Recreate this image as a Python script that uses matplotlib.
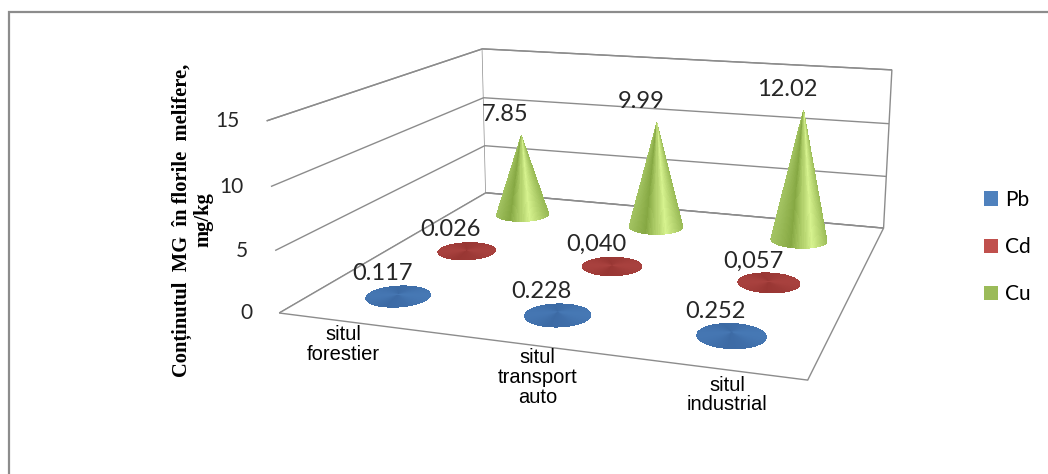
import numpy as np
import matplotlib
matplotlib.use('Agg')
import matplotlib.pyplot as plt
from matplotlib.patches import Patch, Rectangle
from matplotlib.colors import to_rgb
from mpl_toolkits.mplot3d import proj3d

# ---------------- data ----------------
categories = ['situl\nforestier', 'situl\ntransport\nauto', 'situl\nindustrial']
series = ['Pb', 'Cd', 'Cu']
pb_values = [0.117, 0.228, 0.252]
cd_values = [0.026, 0.040, 0.057]
cu_values = [7.85, 9.99, 12.02]
pb_labels = ['0.117', '0.228', '0.252']
cd_labels = ['0.026', '0,040', '0,057']
cu_labels = ['7.85', '9.99', '12.02']
z_ticks = [0, 5, 10, 15]
z_ticklabels = ['0', '5', '10', '15']
y_title = 'Conținutul  MG  în florile  melifere,\nmg/kg'

legend_colors = ['#4F81BD', '#C0504D', '#9BBB59']

FW, FH = 1048, 474
plt.rcParams['grid.color'] = '#8c8c8c'
plt.rcParams['grid.linewidth'] = 1.0

fig = plt.figure(figsize=(FW / 100, FH / 100), dpi=100)
fig.patch.set_facecolor('white')

S = 672
cx, cy = 603, 190
ax = fig.add_axes([(cx - S / 2) / FW, 1 - (cy + S / 2) / FH, S / FW, S / FH],
                  projection='3d')
ax.set_facecolor('none')
ELEV, AZIM = 14.1, -71.2
ax.set_proj_type('persp', focal_length=0.36)
ax.view_init(elev=ELEV, azim=AZIM)
ax.set_box_aspect((1.10, 1.04, 0.405))
ax.set_xlim(-0.5, 2.5)
ax.set_ylim(-0.5, 2.5)
ax.set_zlim(0, 15)
ax.computed_zorder = False

for axis in (ax.xaxis, ax.yaxis, ax.zaxis):
    axis.set_pane_color((1, 1, 1, 1))
    axis.pane.set_edgecolor('#8c8c8c')
    axis.pane.set_linewidth(1.0)
    axis.line.set_color((0, 0, 0, 0))
    axis._axinfo['tick']['inward_factor'] = 0
    axis._axinfo['tick']['outward_factor'] = 0
ax.zaxis._axinfo['grid'].update({'color': '#8c8c8c', 'linewidth': 1.0})

ax.set_xticks([])
ax.set_yticks([])
ax.set_zticks(z_ticks)
ax.set_zticklabels([])
ax.zaxis.set_ticks_position('lower')

x0, x1 = ax.get_xlim()
y0, y1 = ax.get_ylim()
M = ax.get_proj()


def proj2d(x, y, z):
    xs, ys, _ = proj3d.proj_transform(x, y, z, M)
    return float(xs), float(ys)


def label3d(x, y, z, s, dx, dy, **kw):
    ax.annotate(s, xy=proj2d(x, y, z), xycoords='data', xytext=(dx, dy),
                textcoords='offset pixels', annotation_clip=False, zorder=10, **kw)


# value-axis labels at the front-left edge
for zt, zl in zip(z_ticks, z_ticklabels):
    label3d(x0, y0, zt, zl, -27, 0, ha='right', va='center',
            fontsize=15, family='Lato', color='#262626')


def gradient_colors(theta, stops, th_cam):
    s = (1 + np.sin(theta - th_cam)) / 2
    pos = np.array([p for p, _ in stops])
    cols = np.array([to_rgb(c) for _, c in stops])
    rgb = np.stack([np.interp(s, pos, cols[:, k]) for k in range(3)], axis=1)
    rgba = np.concatenate([rgb, np.ones((len(rgb), 1))], axis=1)
    return np.stack([rgba, rgba])


nth = 121
theta = np.linspace(0, 2 * np.pi, nth)
TH, T = np.meshgrid(theta, np.array([0.0, 1.0]))
theta_mid = theta + (theta[1] - theta[0]) / 2
th_cam = np.deg2rad(AZIM)
rx, ry = 0.186, 0.2

stops = {
    'Pb': [(0, '#4576b2'), (0.4, '#3c6aa4'), (0.7, '#3f6ea9'), (1, '#4678b4')],
    'Cd': [(0, '#a8413e'), (0.4, '#983633'), (0.7, '#9d3a37'), (1, '#a8413e')],
    'Cu': [(0, '#a3c362'), (0.3, '#86a843'), (0.66, '#d6f28e'), (1, '#98b955')],
}

values = [pb_values, cd_values, cu_values]
labels = [pb_labels, cd_labels, cu_labels]

for i, (name, vals, labs) in enumerate(zip(series, values, labels)):
    fc = gradient_colors(theta_mid, stops[name], th_cam)
    for j, (v, lab) in enumerate(zip(vals, labs)):
        X = j + rx * (1 - T) * np.cos(TH)
        Y = i + ry * (1 - T) * np.sin(TH)
        Z = v * T
        ax.plot_surface(X, Y, Z, facecolors=fc, shade=False, linewidth=0,
                        antialiased=False, rstride=1, cstride=1, zorder=3 - i)
        label3d(j, i, v, lab, -16, 21, ha='center', va='center',
                fontsize=17, family='Lato', color='#262626')

cat_nudge = [(-14, -2), (12, -4), (18, -8)]
for j, cat in enumerate(categories):
    label3d(j, y0, 0, cat, cat_nudge[j][0], cat_nudge[j][1], ha='center', va='top',
            fontsize=14.5, family='Liberation Sans', color='#000000', linespacing=1.05)

fig.text(193 / FW, 1 - 220 / FH, y_title, rotation=90, ha='center', va='center',
         multialignment='center', family='Liberation Serif', fontweight='bold',
         fontsize=14.8, linespacing=1.1, color='#000000')

handles = [Patch(facecolor=c, edgecolor='none') for c in legend_colors]
fig.legend(handles, series, loc='center left', bbox_to_anchor=(984 / FW, 1 - 247 / FH),
           frameon=False, prop={'family': 'Lato', 'size': 15}, handlelength=0.68,
           handleheight=0.68, handletextpad=0.35, labelspacing=1.3, borderpad=0,
           borderaxespad=0)

fig.add_artist(Rectangle((9 / FW, -0.1), 2, 1 - 12 / FH + 0.1, transform=fig.transFigure,
                         fill=False, edgecolor='#8c8c8c', linewidth=1.6))

fig.savefig('out.png', dpi=100)
